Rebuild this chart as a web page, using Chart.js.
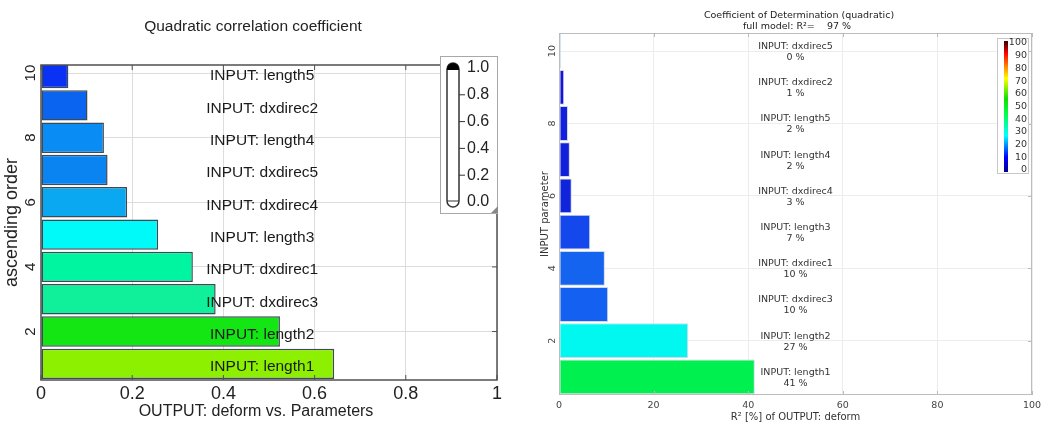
<!DOCTYPE html>
<html>
<head>
<meta charset="utf-8">
<title>Sensitivity bars</title>
<script src="https://cdn.jsdelivr.net/npm/chart.js@4.4.1/dist/chart.umd.min.js"></script>
<style>
  html, body { margin: 0; padding: 0; background: #fff; }
  #wrap { position: relative; width: 1050px; height: 423px; }
  .box { position: absolute; top: 0; height: 423px; }
  #leftBox { left: 0; width: 520px; }
  #rightBox { left: 520px; width: 530px; }
</style>
</head>
<body>
<div id="wrap">
  <div class="box" id="leftBox"><canvas id="corrChart"></canvas></div>
  <div class="box" id="rightBox"><canvas id="codChart"></canvas></div>
</div>
<script>
// ----- Data: quadratic correlation (left), ascending order bottom -> top -----
const corrRanks = [1, 2, 3, 4, 5, 6, 7, 8, 9, 10];
const corrParams = ["length1", "length2", "dxdirec3", "dxdirec1", "length3",
                    "dxdirec4", "dxdirec5", "length4", "dxdirec2", "length5"];
const corrValues = [0.643, 0.524, 0.383, 0.333, 0.257, 0.189, 0.146, 0.138, 0.102, 0.06];
const corrColors = ["#8cf000", "#14e614", "#10f09a", "#00f5a0", "#00fafa",
                    "#0aa8f0", "#0a84f0", "#0a8cf5", "#0a64f0", "#0a32f5"];
const corrXTicks = [0, 0.2, 0.4, 0.6, 0.8, 1];
const rankTicks = [2, 4, 6, 8, 10];
const legendTicks = [0, 0.2, 0.4, 0.6, 0.8, 1.0];

// ----- Data: coefficient of determination (right) -----
const codRanks = [1, 2, 3, 4, 5, 6, 7, 8, 9, 10];
const codParams = ["length1", "length2", "dxdirec3", "dxdirec1", "length3",
                   "dxdirec4", "length4", "length5", "dxdirec2", "dxdirec5"];
const codValues = [41.4, 27.3, 10.4, 9.7, 6.6, 2.7, 2.3, 1.9, 1.1, 0.4];
const codColors = ["#00f050", "#00f8f0", "#1460f0", "#1464f0", "#1448ec",
                   "#1024dc", "#1020dc", "#1020dc", "#1414d4", "#2020c0"];
const codXTicks = [0, 20, 40, 60, 80, 100];
const colorbarTicks = [0, 10, 20, 30, 40, 50, 60, 70, 80, 90, 100];
const fullModelR2 = 97;

const ARIAL = "'Liberation Sans', Arial, sans-serif";
const DEJAVU = "'DejaVu Sans', Verdana, sans-serif";

function line(ctx, x1, y1, x2, y2) {
  ctx.beginPath();
  ctx.moveTo(x1, y1);
  ctx.lineTo(x2, y2);
  ctx.stroke();
}

// ----- Left chart decorations -----
const corrDecor = {
  id: "corrDecor",
  afterDatasetsDraw(chart) {
    const { ctx, chartArea: a, scales: { x, y } } = chart;
    ctx.save();

    // frame + inward ticks
    ctx.strokeStyle = "#505050";
    ctx.lineWidth = 1.5;
    ctx.strokeRect(a.left, a.top, a.right - a.left, a.bottom - a.top);
    ctx.lineWidth = 1;
    corrXTicks.forEach(v => {
      const px = x.getPixelForValue(v);
      line(ctx, px, a.top, px, a.top + 5);
      line(ctx, px, a.bottom, px, a.bottom - 5);
    });
    rankTicks.forEach(v => {
      const py = y.getPixelForValue(v);
      line(ctx, a.right, py, a.right - 5, py);
    });

    // parameter names on the bars
    ctx.font = "15.5px " + ARIAL;
    ctx.fillStyle = "#1a1a1a";
    ctx.textAlign = "center";
    ctx.textBaseline = "middle";
    const labelX = a.left + 0.485 * (a.right - a.left);
    corrRanks.forEach((r, i) => {
      let py = y.getPixelForValue(r) + 3;
      if (py < a.top + 10) py = a.top + 12;
      ctx.fillText("INPUT: " + corrParams[i], labelX, py);
    });

    // titles
    ctx.font = "15.5px " + ARIAL;
    ctx.fillStyle = "#222";
    ctx.fillText("Quadratic correlation coefficient", 253, 27);
    ctx.font = "16px " + ARIAL;
    ctx.fillText("OUTPUT: deform vs. Parameters", 256, 412);
    ctx.restore();
  },
  afterDraw(chart) {
    const { ctx } = chart;
    ctx.save();
    // legend box
    ctx.fillStyle = "#fff";
    ctx.strokeStyle = "#a8a8a8";
    ctx.lineWidth = 1;
    ctx.fillRect(440.5, 56.5, 57, 157);
    ctx.strokeRect(440.5, 56.5, 57, 157);
    ctx.fillStyle = "#888";
    ctx.beginPath();
    ctx.moveTo(498, 206);
    ctx.lineTo(498, 213);
    ctx.lineTo(491, 213);
    ctx.closePath();
    ctx.fill();

    // thermometer tube
    const cx = 453, r = 6, top = 63, bot = 207;
    ctx.strokeStyle = "#333";
    ctx.lineWidth = 1.5;
    ctx.beginPath();
    ctx.arc(cx, top + r, r, Math.PI, 0);
    ctx.lineTo(cx + r, bot - r);
    ctx.arc(cx, bot - r, r, 0, Math.PI);
    ctx.closePath();
    ctx.stroke();
    ctx.fillStyle = "#000";
    ctx.beginPath();
    ctx.arc(cx, top + r, r, Math.PI, 0);
    ctx.lineTo(cx + r, top + r + 1);
    ctx.lineTo(cx - r, top + r + 1);
    ctx.closePath();
    ctx.fill();
    ctx.lineWidth = 1;
    line(ctx, cx - r, 201, cx + r, 201);

    // ticks + labels
    const y0 = 202, y1 = 68;
    ctx.font = "16px " + ARIAL;
    ctx.fillStyle = "#222";
    ctx.textAlign = "left";
    ctx.textBaseline = "middle";
    legendTicks.forEach(v => {
      const py = y0 - v * (y0 - y1);
      if (v > 0 && v < 1) line(ctx, cx + r, py, cx + r + 6, py);
      ctx.fillText(v.toFixed(1), 467, py);
    });
    ctx.restore();
  }
};

// ----- Right chart decorations -----
const codDecor = {
  id: "codDecor",
  afterDatasetsDraw(chart) {
    const { ctx, chartArea: a, scales: { x, y } } = chart;
    ctx.save();
    ctx.strokeStyle = "#bcbcbc";
    ctx.lineWidth = 1;
    ctx.strokeRect(a.left + 0.5, a.top + 0.5, a.right - a.left - 1, a.bottom - a.top - 1);
    codXTicks.forEach(v => {
      const px = Math.round(x.getPixelForValue(v)) + 0.5;
      line(ctx, px, a.top, px, a.top + 4);
      line(ctx, px, a.bottom, px, a.bottom - 4);
    });
    rankTicks.forEach(v => {
      const py = Math.round(y.getPixelForValue(v)) + 0.5;
      line(ctx, a.right, py, a.right - 4, py);
    });

    // name + percentage in the middle of the plot
    ctx.font = "9.5px " + DEJAVU;
    ctx.fillStyle = "#333";
    ctx.textAlign = "center";
    ctx.textBaseline = "middle";
    const labelX = (a.left + a.right) / 2;
    codRanks.forEach((r, i) => {
      const py = y.getPixelForValue(r);
      ctx.fillText("INPUT: " + codParams[i], labelX, py - 4.5);
      ctx.fillText(Math.round(codValues[i]) + " %", labelX, py + 6.5);
    });

    // title
    ctx.fillStyle = "#222";
    ctx.fillText("Coefficient of Determination (quadratic)", 279, 16);
    ctx.fillText("full model: R\u00b2=    " + fullModelR2 + " %", 277, 27);
    ctx.restore();
  },
  afterDraw(chart) {
    const { ctx } = chart;
    ctx.save();
    // colour bar box
    ctx.fillStyle = "#fff";
    ctx.strokeStyle = "#c8c8c8";
    ctx.lineWidth = 1;
    ctx.fillRect(477.5, 38.5, 31, 135);
    ctx.strokeRect(477.5, 38.5, 31, 135);

    const y0 = 170, y1 = 43;
    const g = ctx.createLinearGradient(0, y0, 0, y1);
    g.addColorStop(0, "#0000a0");
    g.addColorStop(0.1, "#0000ff");
    g.addColorStop(0.27, "#00ffff");
    g.addColorStop(0.45, "#00ff40");
    g.addColorStop(0.56, "#10e000");
    g.addColorStop(0.72, "#ffff00");
    g.addColorStop(0.82, "#ff8000");
    g.addColorStop(0.92, "#ff0000");
    g.addColorStop(1, "#500000");
    ctx.fillStyle = g;
    ctx.fillRect(484, y1 - 2, 4, y0 - y1 + 4);

    ctx.font = "9.5px " + DEJAVU;
    ctx.fillStyle = "#333";
    ctx.textAlign = "right";
    ctx.textBaseline = "middle";
    colorbarTicks.forEach(v => {
      ctx.fillText(String(v), 507, y0 - v / 100 * (y0 - y1));
    });
    ctx.restore();
  }
};

// ----- Left chart -----
new Chart(document.getElementById("corrChart"), {
  type: "bar",
  data: {
    datasets: [{
      data: corrRanks.map((r, i) => ({ x: corrValues[i], y: r })),
      backgroundColor: corrColors,
      borderColor: "#3c4a55",
      borderWidth: 1.5,
      borderSkipped: false,
      barPercentage: 0.94,
      categoryPercentage: 1
    }]
  },
  options: {
    indexAxis: "y",
    responsive: true,
    maintainAspectRatio: false,
    animation: false,
    layout: { padding: { top: 65, right: 23, bottom: 0, left: 0 } },
    plugins: {
      legend: { display: false },
      tooltip: { enabled: false },
      title: { display: false }
    },
    scales: {
      x: {
        type: "linear", min: 0, max: 1,
        afterBuildTicks: s => { s.ticks = corrXTicks.map(v => ({ value: v })); },
        afterFit: s => { s.height = 43; },
        grid: { color: "#dcdcdc", drawTicks: false },
        border: { display: false },
        ticks: {
          padding: 5, autoSkip: false, color: "#222",
          font: { family: ARIAL, size: 18, lineHeight: 1 },
          callback: v => String(v)
        }
      },
      y: {
        type: "linear", min: 0.5, max: 10.25, offset: false,
        afterBuildTicks: s => { s.ticks = rankTicks.map(v => ({ value: v })); },
        afterFit: s => { s.width = 41; },
        grid: { color: "#dcdcdc", drawTicks: false, offset: false },
        border: { display: false },
        ticks: {
          padding: 2, autoSkip: false, color: "#222",
          minRotation: 90, maxRotation: 90, crossAlign: "center",
          font: { family: ARIAL, size: 15 },
          callback: v => String(v)
        },
        title: {
          display: true, text: "ascending order", color: "#222",
          font: { family: ARIAL, size: 18 },
          padding: { top: 1, bottom: 0 }
        }
      }
    }
  },
  plugins: [corrDecor]
});

// ----- Right chart -----
new Chart(document.getElementById("codChart"), {
  type: "bar",
  data: {
    datasets: [{
      data: codRanks.map((r, i) => ({ x: codValues[i], y: r })),
      backgroundColor: codColors,
      borderColor: "#d0d8ea",
      borderWidth: 1,
      borderSkipped: false,
      barPercentage: 0.96,
      categoryPercentage: 1
    }]
  },
  options: {
    indexAxis: "y",
    responsive: true,
    maintainAspectRatio: false,
    animation: false,
    layout: { padding: { top: 33, right: 18, bottom: 0, left: 0 } },
    plugins: {
      legend: { display: false },
      tooltip: { enabled: false },
      title: { display: false }
    },
    scales: {
      x: {
        type: "linear", min: 0, max: 100,
        afterBuildTicks: s => { s.ticks = codXTicks.map(v => ({ value: v })); },
        afterFit: s => { s.height = 28; },
        grid: { color: "#ececec", drawTicks: false },
        border: { display: false },
        ticks: {
          padding: 6, autoSkip: false, color: "#444",
          font: { family: DEJAVU, size: 9.5, lineHeight: 1 }
        },
        title: {
          display: true, text: "R\u00b2 [%] of OUTPUT: deform", color: "#333",
          font: { family: DEJAVU, size: 10 },
          padding: { top: 0, bottom: 0 }
        }
      },
      y: {
        type: "linear", min: 0.5, max: 10.5, offset: false,
        afterBuildTicks: s => { s.ticks = rankTicks.map(v => ({ value: v })); },
        afterFit: s => { s.width = 39; },
        grid: { color: "#ececec", drawTicks: false, offset: false },
        border: { display: false },
        ticks: {
          padding: 0, autoSkip: false, color: "#444",
          minRotation: 90, maxRotation: 90, crossAlign: "center",
          font: { family: DEJAVU, size: 9.5 }
        },
        title: {
          display: true, text: "INPUT parameter", color: "#333",
          font: { family: DEJAVU, size: 10 },
          padding: { top: 19, bottom: 0 }
        }
      }
    }
  },
  plugins: [codDecor]
});
</script>
</body>
</html>
